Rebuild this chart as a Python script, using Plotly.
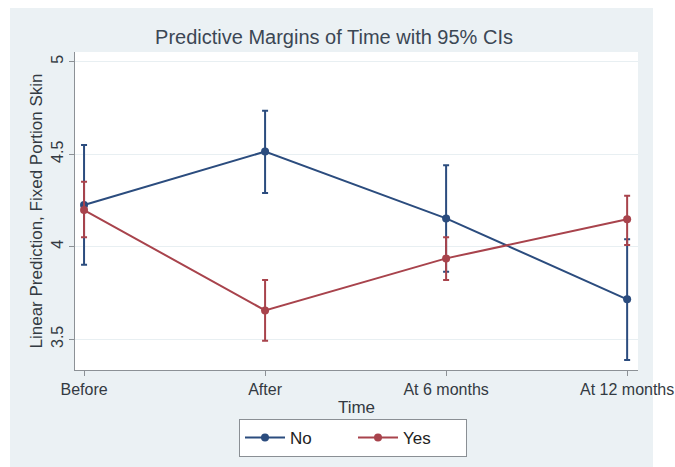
import plotly.graph_objects as go

# Predictive margins of Time with 95% confidence intervals
time_labels = ["Before", "After", "At 6 months", "At 12 months"]

no_margin = [4.225, 4.514, 4.153, 3.716]
no_ci_low = [3.903, 4.290, 3.865, 3.388]
no_ci_high = [4.550, 4.734, 4.440, 4.040]

yes_margin = [4.198, 3.656, 3.937, 4.148]
yes_ci_low = [4.051, 3.492, 3.820, 4.009]
yes_ci_high = [4.351, 3.820, 4.051, 4.276]

y_ticks = [3.5, 4, 4.5, 5]
y_tick_text = ["3.5", "4", "4.5", "5"]

NAVY = "#2b4c7e"
MAROON = "#a8434c"
FONT = "Liberation Sans, Arial, sans-serif"
TEXT = "#333a42"


def series(name, margin, lo, hi, color):
    return go.Scatter(
        x=time_labels,
        y=margin,
        name=name,
        mode="lines+markers",
        line=dict(color=color, width=2),
        marker=dict(color=color, size=8, symbol="circle"),
        error_y=dict(
            type="data",
            symmetric=False,
            array=[h - m for h, m in zip(hi, margin)],
            arrayminus=[m - l for m, l in zip(margin, lo)],
            color=color,
            thickness=2,
            width=3,
        ),
    )


fig = go.Figure()
fig.add_trace(series("No", no_margin, no_ci_low, no_ci_high, NAVY))
fig.add_trace(series("Yes", yes_margin, yes_ci_low, yes_ci_high, MAROON))

W, H = 675, 467
L, R, T, B = 75, 37, 52, 97
PW, PH = W - L - R, H - T - B

# light graph-region background behind the plot
fig.add_shape(
    type="rect", xref="paper", yref="paper",
    x0=(10 - L) / PW, x1=(653 - L) / PW,
    y0=-B / PH, y1=1 + (T - 8) / PH,
    fillcolor="#ebf1f4", line=dict(width=0), layer="below",
)
fig.add_shape(
    type="rect", xref="paper", yref="paper",
    x0=0, x1=1, y0=0, y1=1,
    fillcolor="white", line=dict(width=0), layer="below",
)

fig.update_layout(
    width=W,
    height=H,
    margin=dict(l=L, r=R, t=T, b=B, autoexpand=False),
    paper_bgcolor="white",
    plot_bgcolor="rgba(0,0,0,0)",
    font=dict(family=FONT, color=TEXT, size=17),
    showlegend=True,
    title=dict(
        text="Predictive Margins of Time with 95% CIs",
        x=334 / W, xanchor="center", xref="container",
        y=1 - 37 / H, yanchor="middle", yref="container",
        font=dict(size=20, color="#3b4754", family=FONT),
    ),
    legend=dict(
        orientation="h",
        x=(353 - L) / PW, xanchor="center",
        y=-(438 - (H - B)) / PH, yanchor="middle",
        bgcolor="white",
        bordercolor="#8a8f94",
        borderwidth=1,
        font=dict(size=17, color="#222"),
        itemwidth=40,
        entrywidth=58,
    ),
    xaxis=dict(
        type="category",
        range=[-0.05, 3.06],
        automargin=False,
        showgrid=False,
        showline=True,
        linecolor="#8c9196",
        linewidth=1,
        ticks="outside",
        ticklen=5,
        tickcolor="#8c9196",
        tickfont=dict(size=16, color=TEXT),
        title=dict(text="Time", font=dict(size=17, color=TEXT), standoff=3),
        zeroline=False,
    ),
    yaxis=dict(
        range=[3.334, 5.052],
        automargin=False,
        tickvals=y_ticks,
        ticktext=y_tick_text,
        tickangle=-90,
        showgrid=True,
        gridcolor="#e8eff2",
        gridwidth=1,
        showline=True,
        linecolor="#8c9196",
        linewidth=1,
        ticks="outside",
        ticklen=5,
        tickcolor="#8c9196",
        tickfont=dict(size=16, color=TEXT),
        title=dict(text="Linear Prediction, Fixed Portion Skin",
                   font=dict(size=17, color=TEXT), standoff=1),
        zeroline=False,
    ),
)

fig.write_html("out.html")
